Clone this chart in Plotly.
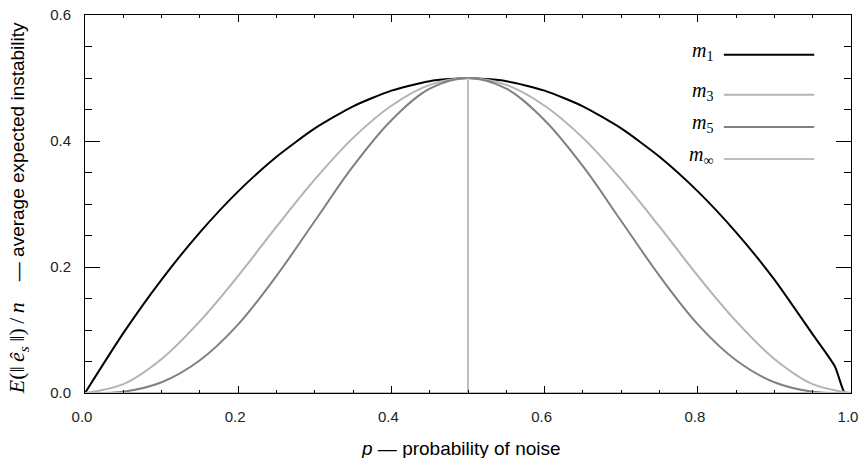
import plotly.graph_objects as go

# ---- data ----
p_grid = [0.0, 0.05, 0.10, 0.15, 0.20, 0.25, 0.30, 0.35, 0.40, 0.45, 0.50,
          0.55, 0.60, 0.65, 0.70, 0.75, 0.80, 0.85, 0.90, 0.95, 1.0]

p_m1 = [0.0, 0.05, 0.10, 0.15, 0.20, 0.25, 0.30, 0.35, 0.40, 0.45, 0.50,
        0.55, 0.60, 0.65, 0.70, 0.75, 0.80, 0.85, 0.90, 0.95, 0.979, 0.992, 1.0]
m1 = [0.0, 0.095, 0.18, 0.255, 0.32, 0.375, 0.42, 0.455, 0.48, 0.495, 0.5,
      0.495, 0.48, 0.455, 0.42, 0.375, 0.32, 0.255, 0.18, 0.093, 0.042, 0.0, 0.0]

m3 = [0.0, 0.014, 0.054, 0.114, 0.186, 0.264, 0.339, 0.405, 0.456, 0.489, 0.5,
      0.489, 0.456, 0.405, 0.339, 0.264, 0.186, 0.114, 0.054, 0.014, 0.0]

m5 = [0.0, 0.002, 0.017, 0.052, 0.109, 0.186, 0.273, 0.360, 0.433, 0.483, 0.5,
      0.483, 0.433, 0.360, 0.273, 0.186, 0.109, 0.052, 0.017, 0.002, 0.0]

p_minf = [0.0, 0.5, 0.5, 0.5, 1.0]
m_inf = [0.0, 0.0, 0.5, 0.0, 0.0]

legend_names = ["<i>m</i><sub>1</sub>", "<i>m</i><sub>3</sub>",
                "<i>m</i><sub>5</sub>", "<i>m</i><sub>∞</sub>"]
colors = ["#000000", "#b3b3b3", "#808080", "#bdbdbd"]

x_ticks = [0.0, 0.2, 0.4, 0.6, 0.8, 1.0]
x_tick_text = ["0.0", "0.2", "0.4", "0.6", "0.8", "1.0"]
y_ticks = [0.0, 0.2, 0.4, 0.6]
y_tick_text = ["0.0", "0.2", "0.4", "0.6"]

fig = go.Figure()
fig.add_trace(go.Scatter(x=p_m1, y=m1, mode="lines",
                         line=dict(color=colors[0], width=2, shape="spline", smoothing=0.6)))
fig.add_trace(go.Scatter(x=p_grid, y=m3, mode="lines",
                         line=dict(color=colors[1], width=2, shape="spline", smoothing=1)))
fig.add_trace(go.Scatter(x=p_grid, y=m5, mode="lines",
                         line=dict(color=colors[2], width=2, shape="spline", smoothing=1)))
fig.add_trace(go.Scatter(x=p_minf, y=m_inf, mode="lines",
                         line=dict(color=colors[3], width=2)))

tickfont = dict(family="Liberation Sans, Arial, sans-serif", size=15, color="#222")

fig.update_xaxes(range=[0, 1], tickvals=x_ticks, ticktext=x_tick_text,
                 ticks="inside", ticklen=7, tickwidth=1, tickcolor="#000",
                 mirror="ticks", showline=True, linecolor="#000", linewidth=1,
                 showgrid=False, zeroline=False, tickfont=tickfont,
                 ticklabelstandoff=10, ticklabelshift=-3,
                 ticklabeloverflow="allow", automargin=False,
                 minor=dict(dtick=0.05, ticks="inside", ticklen=3, tickcolor="#000"))
fig.update_yaxes(range=[0, 0.6], tickvals=y_ticks, ticktext=y_tick_text,
                 ticks="inside", ticklen=15, tickwidth=1, tickcolor="#000",
                 mirror="ticks", showline=True, linecolor="#000", linewidth=1,
                 showgrid=False, zeroline=False, tickfont=tickfont,
                 ticklabelstandoff=10, automargin=False,
                 minor=dict(dtick=0.05, ticks="inside", ticklen=7, tickcolor="#000"))

# legend: italic serif labels with line samples to their right
leg_y = [0.895, 0.789, 0.704, 0.619]
for name, col, yy in zip(legend_names, colors, leg_y):
    fig.add_shape(type="line", xref="paper", yref="paper",
                  x0=0.834, x1=0.952, y0=yy, y1=yy,
                  line=dict(color=col, width=2))
    fig.add_annotation(xref="paper", yref="paper", x=0.822, y=yy + 0.008,
                       text=name, showarrow=False,
                       xanchor="right", yanchor="middle",
                       font=dict(family="Liberation Serif, Times New Roman, serif",
                                 size=20, color="#000"))

# axis titles
fig.add_annotation(xref="paper", yref="paper", x=0.491, y=-0.148,
                   text="<i>p</i> — probability of noise", showarrow=False,
                   xanchor="center", yanchor="middle",
                   font=dict(family="Liberation Sans, Arial, sans-serif", size=19, color="#000"))
fig.add_annotation(xref="paper", yref="paper", x=-0.088, y=0.4876,
                   text="<span style='font-family:Liberation Serif;font-size:22px'>"
                        "<i>E</i>(‖\u2009<i>ê<sub>s</sub></i>\u2009‖)\u2009/\u2009<i>n</i></span>"
                        "    — average expected instability",
                   showarrow=False, textangle=-90,
                   xanchor="center", yanchor="middle",
                   font=dict(family="Liberation Sans, Arial, sans-serif", size=19, color="#000"))

fig.update_layout(width=860, height=458, showlegend=False,
                  margin=dict(l=85, r=9, t=15, b=65, autoexpand=False),
                  plot_bgcolor="white", paper_bgcolor="white")

fig.write_html("out.html")
